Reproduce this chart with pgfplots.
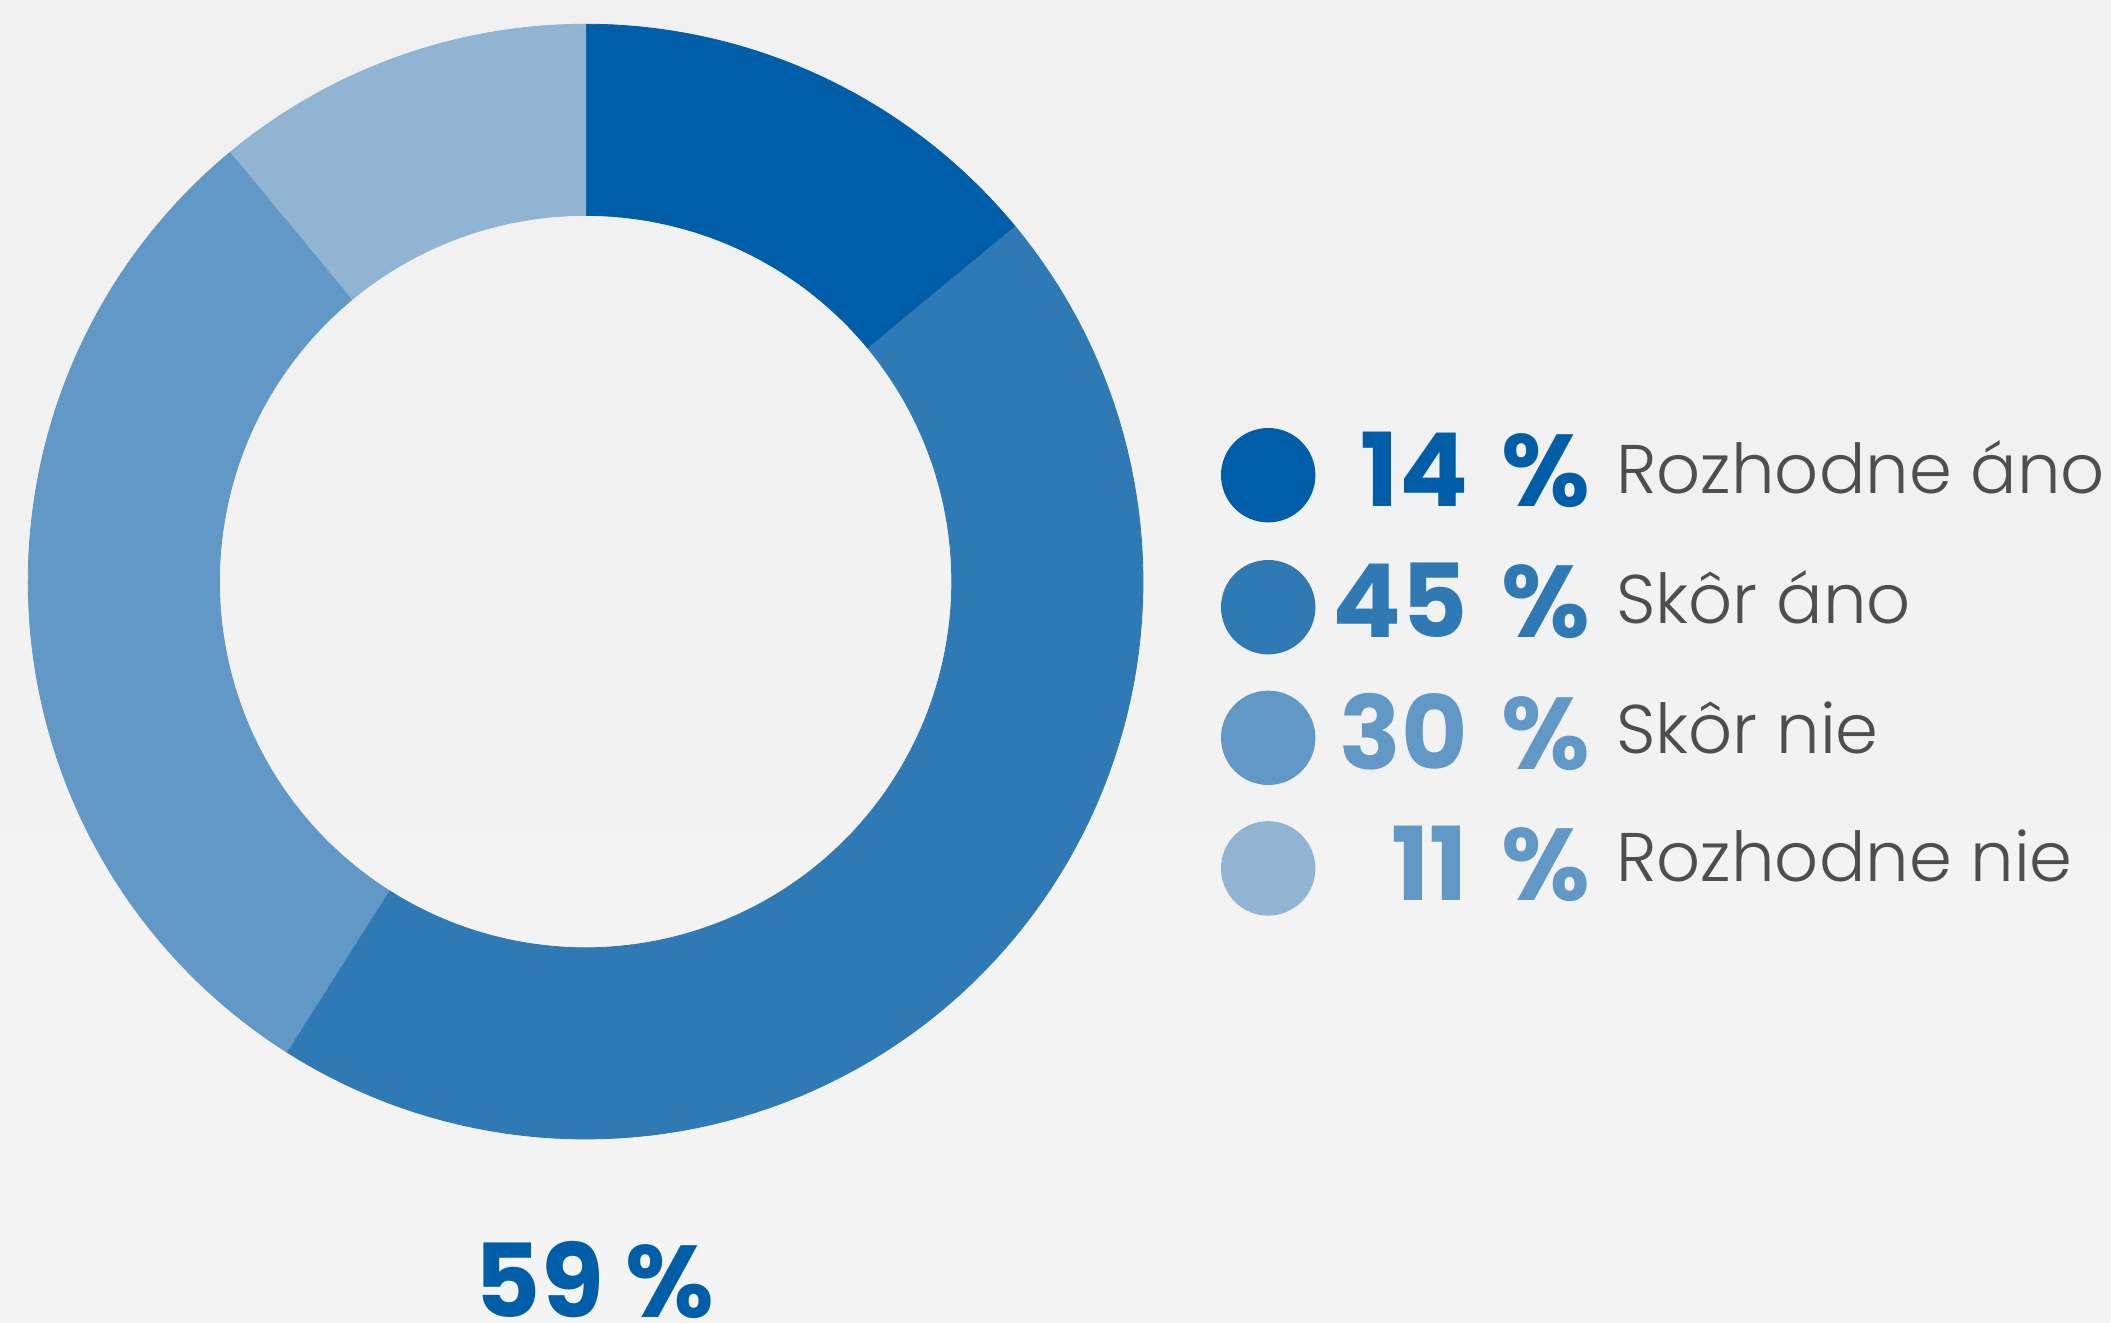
\documentclass[border=0pt]{standalone}
\usepackage{pgfplots}
\pgfplotsset{compat=1.18}
\usepackage{pgfplotstable}
\usepackage{fontspec}
\setmainfont{Poppins}
\newfontfamily\lightfont{Poppins Light}
\definecolor{cA}{HTML}{005DA8}
\definecolor{cB}{HTML}{2F7AB5}
\definecolor{cC}{HTML}{6198C5}
\definecolor{cD}{HTML}{90B4D2}
\definecolor{txt}{HTML}{4E4E4E}
\definecolor{bgtop}{HTML}{F0F0F0}
\definecolor{bgbot}{HTML}{F4F4F4}

\pgfplotstableread[col sep=comma]{
label,pct
Rozhodne áno,14
Skôr áno,45
Skôr nie,30
Rozhodne nie,11
}\donutdata
\pgfplotstablegetelem{0}{pct}\of\donutdata \edef\pA{\pgfplotsretval}
\pgfplotstablegetelem{1}{pct}\of\donutdata \edef\pB{\pgfplotsretval}
\pgfplotstablegetelem{2}{pct}\of\donutdata \edef\pC{\pgfplotsretval}
\pgfplotstablegetelem{3}{pct}\of\donutdata \edef\pD{\pgfplotsretval}
\pgfmathsetmacro\sA{90}
\pgfmathsetmacro\eA{\sA-3.6*\pA}
\pgfmathsetmacro\eB{\eA-3.6*\pB}
\pgfmathsetmacro\eC{\eB-3.6*\pC}
\pgfmathsetmacro\eD{\eC-3.6*\pD}
\pgfmathtruncatemacro\yes{\pA+\pB}

\newcommand\cx{585.6}
\newcommand\cy{740.4}
\newcommand\Ro{557.4}
\newcommand\Ri{366.2}
% ring sector: colour, start angle, end angle
\newcommand\slice[3]{%
  \addplot[fill=#1, draw=#1, line width=0.2pt, domain=0:2.02, samples=203, variable=\t]
   ({\cx + ifthenelse(\t<1.005,\Ro,\Ri)*cos(ifthenelse(\t<1.005, #2+(#3-#2)*min(\t,1), #3+(#2-#3)*min(max(\t-1.01,0),1)))},
    {\cy + ifthenelse(\t<1.005,\Ro,\Ri)*sin(ifthenelse(\t<1.005, #2+(#3-#2)*min(\t,1), #3+(#2-#3)*min(max(\t-1.01,0),1)))});
}
\newcommand\numfont{\fontsize{25.5}{30}\selectfont\bfseries}
\newcommand\labfont{\lightfont\fontsize{17.2}{21}\selectfont}

\begin{document}
\begin{tikzpicture}
\useasboundingbox (0,0) rectangle (527.75pt,330.5pt);
\clip (0,0) rectangle (527.75pt,330.5pt);
\shade[top color=bgtop, bottom color=bgbot] (0,0) rectangle (527.75pt,330.5pt);
\begin{axis}[at={(0,0)}, anchor=south west,
  xmin=0, xmax=2111, ymin=0, ymax=1322,
  x=0.25pt, y=0.25pt, hide axis, clip=false]
\slice{cA}{\sA}{\eA}
\slice{cB}{\eA}{\eB}
\slice{cC}{\eB}{\eC}
\slice{cD}{\eC}{\eD}
% legend markers
\addplot[only marks, mark=*, color=cA, mark size=11.6pt] coordinates {(1268.2,846.8)};
\addplot[only marks, mark=*, color=cB, mark size=11.6pt] coordinates {(1268.2,714.8)};
\addplot[only marks, mark=*, color=cC, mark size=11.6pt] coordinates {(1268.2,584.2)};
\addplot[only marks, mark=*, color=cD, mark size=11.6pt] coordinates {(1268.2,453.6)};
% legend texts
\node[anchor=base east, inner sep=0, text=cA, font=\numfont] at (axis cs:1469,816) {\pA};
\node[anchor=base west, inner sep=0, text=cA, font=\numfont] at (axis cs:1501,816) {\%};
\node[anchor=base west, inner sep=0, text=txt, font=\labfont] at (axis cs:1615.6,828.7) {Rozhodne áno};
\node[anchor=base east, inner sep=0, text=cB, font=\numfont] at (axis cs:1469,684.4) {\pB};
\node[anchor=base west, inner sep=0, text=cB, font=\numfont] at (axis cs:1501,684.4) {\%};
\node[anchor=base west, inner sep=0, text=txt, font=\labfont] at (axis cs:1615.6,698.5) {Skôr áno};
\node[anchor=base east, inner sep=0, text=cC, font=\numfont] at (axis cs:1469,552.9) {\pC};
\node[anchor=base west, inner sep=0, text=cC, font=\numfont] at (axis cs:1501,552.9) {\%};
\node[anchor=base west, inner sep=0, text=txt, font=\labfont] at (axis cs:1615.6,568.5) {Skôr nie};
\node[anchor=base east, inner sep=0, text=cC, font=\numfont] at (axis cs:1469,421.3) {\pD};
\node[anchor=base west, inner sep=0, text=cC, font=\numfont] at (axis cs:1501,421.3) {\%};
\node[anchor=base west, inner sep=0, text=txt, font=\labfont] at (axis cs:1615.6,440.3) {Rozhodne nie};
% total
\node[anchor=base, inner sep=0, text=cA, font=\numfont] at (axis cs:594.5,5) {\yes~\%};
\end{axis}
\end{tikzpicture}
\end{document}
